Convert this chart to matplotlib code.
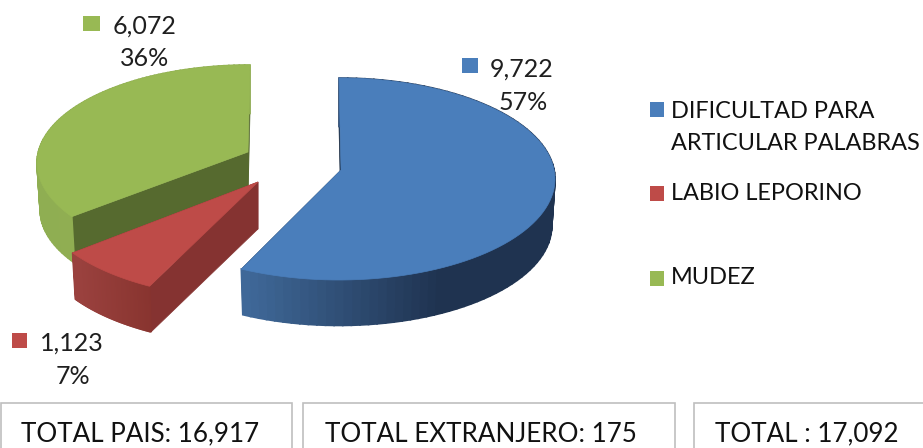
import numpy as np
import matplotlib
matplotlib.use("Agg")
import matplotlib.pyplot as plt
from matplotlib.patches import Polygon, Rectangle
from matplotlib.colors import to_rgb

# Chart data
categories = ["DIFICULTAD PARA\nARTICULAR PALABRAS", "LABIO LEPORINO", "MUDEZ"]
values = [9722, 1123, 6072]
value_labels = ["9,722", "1,123", "6,072"]
pct_labels = ["57%", "7%", "36%"]
totals = ["TOTAL PAIS: 16,917", "TOTAL EXTRANJERO: 175", "TOTAL : 17,092"]

# Colours
top_colors = ["#4a7ebb", "#be4b48", "#98b954"]
cut_colors = ["#16283f", "#853331", "#566a2f"]
side_left = ["#3f6898", "#9a413e", "#8fae52"]
side_right = ["#1f3350", "#88342f", "#90ae52"]
side_x = [(243, 435), (78, 150), (38, 75)]

# Layout of each exploded slice in pixels: ellipse centre, radii, apex, angle pull
centers = [(339, 179), (255, 197), (250, 163)]
radii = [(216, 101), (218, 102), (213, 98)]
apexes = [(341, 170), (258, 182), (248, 152)]
pulls = [0, 10, 10]
depth = 47
shrink = 0.985

plt.rcParams["font.family"] = ["Lato", "DejaVu Sans"]
fig = plt.figure(figsize=(9.23, 4.48), dpi=100)
ax = fig.add_axes([0, 0, 1, 1])
ax.set_xlim(0, 923)
ax.set_ylim(448, 0)
ax.axis("off")


def rim(deg, c, r, pull, scale=1.0, dy=0):
    # perspective pulls the back-left of the pie round a little
    d = np.radians(deg + pull * np.sin(np.radians(deg)) ** 2)
    return c[0] + r[0] * scale * np.sin(d), c[1] + dy - r[1] * scale * np.cos(d)


def mix(a, b, t):
    return tuple((1 - t) * np.array(to_rgb(a)) + t * np.array(to_rgb(b)))


# slice angles from the values, clockwise from 12 o'clock
edges = np.concatenate([[0], np.cumsum(values)]) / sum(values) * 360

# green at the back, then red, then blue
for i in [2, 1, 0]:
    c, r, a, p = centers[i], radii[i], apexes[i], pulls[i]
    angs = np.linspace(edges[i], edges[i + 1], 90)

    # cut faces
    for e in [edges[i], edges[i + 1]]:
        x0, y0 = rim(e, c, r, p)
        x1, y1 = rim(e, c, r, p, shrink, depth)
        ax.add_patch(Polygon([a, (x0, y0), (x1, y1), (a[0], a[1] + depth)],
                             fc=cut_colors[i], ec=cut_colors[i], lw=0.5, zorder=i * -3 + 7))

    # outer side as thin strips for the gradient
    for s, e in zip(angs[:-1], angs[1:]):
        x0, y0 = rim(s, c, r, p)
        x1, y1 = rim(e, c, r, p)
        x2, y2 = rim(e, c, r, p, shrink, depth)
        x3, y3 = rim(s, c, r, p, shrink, depth)
        t = np.clip((x1 - side_x[i][0]) / (side_x[i][1] - side_x[i][0]), 0, 1)
        col = mix(side_left[i], side_right[i], t)
        ax.add_patch(Polygon([(x0, y0), (x1, y1), (x2, y2), (x3, y3)],
                             fc=col, ec=col, lw=1.2, zorder=i * -3 + 7))

    # top surface
    xs, ys = rim(angs, c, r, p)
    ax.add_patch(Polygon([a] + list(zip(xs, ys)), fc=top_colors[i], ec=top_colors[i],
                         lw=0.5, zorder=i * -3 + 8))

# data labels
lab_box = [(462, 58, 16), (12, 333, 15), (83, 16, 17)]
lab_txt = [(490, 69), (40, 343), (113, 26)]
pct_txt = [(523, 103), (73, 377), (145, 59)]
for i in range(3):
    x, y, w = lab_box[i]
    ax.add_patch(Rectangle((x, y), w, 15, fc=top_colors[i], ec="none"))
    ax.text(lab_txt[i][0], lab_txt[i][1], value_labels[i], fontsize=18, color="#1f1f1f",
            ha="left", va="center")
    ax.text(pct_txt[i][0], pct_txt[i][1], pct_labels[i], fontsize=18, color="#1f1f1f",
            ha="center", va="center")

# legend
leg_box = [102, 186, 271]
leg_y = [111, 194, 278]
for i in range(3):
    ax.add_patch(Rectangle((650, leg_box[i]), 14, 15, fc=top_colors[i], ec="none"))
lines = categories[0].split("\n")
ax.text(671, leg_y[0], lines[0], fontsize=16.9, color="#111111", va="center")
ax.text(671, 144, lines[1], fontsize=16.9, color="#111111", va="center")
ax.text(671, leg_y[1], categories[1], fontsize=16.9, color="#111111", va="center")
ax.text(671, leg_y[2], categories[2], fontsize=16.9, color="#111111", va="center")

# total boxes along the bottom, cut off by the image edge
box_x = [(1, 292), (303, 675), (694, 930)]
txt_x = [21, 325, 715]
for (x0, x1), tx, t in zip(box_x, txt_x, totals):
    ax.add_patch(Rectangle((x0, 403), x1 - x0, 60, fc="white", ec="#bfbfbf", lw=1.2))
    ax.text(tx, 434, t, fontsize=18.7, color="#111111", va="center", ha="left")

fig.savefig("out.png", dpi=100)
